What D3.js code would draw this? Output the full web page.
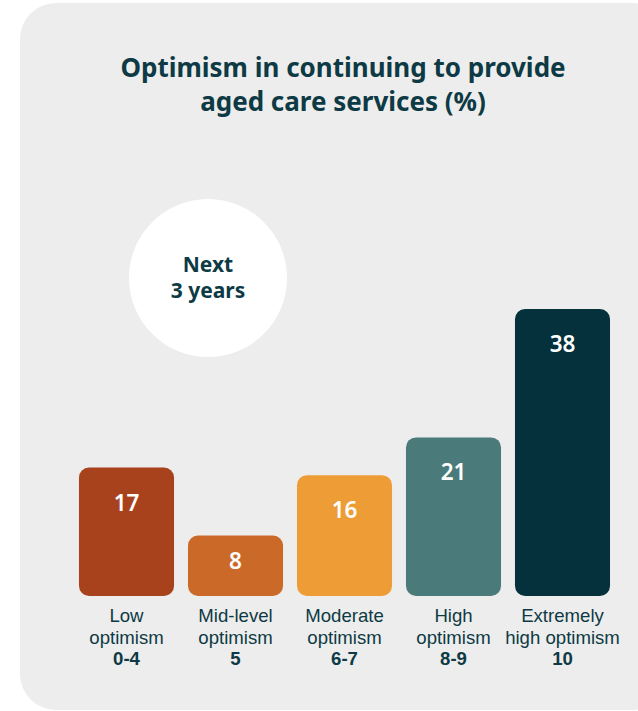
<!DOCTYPE html>
<html>
<head>
<meta charset="utf-8">
<script src="https://cdn.jsdelivr.net/npm/d3@7/dist/d3.min.js"></script>
<style>
  html, body { margin: 0; padding: 0; background: #ffffff; }
  svg { display: block; }
</style>
</head>
<body>
<svg id="chart" width="638" height="711"></svg>
<script>
// Share of providers (%) by optimism level, next 3 years
const categoryLines = [
  ["Low", "optimism"],
  ["Mid-level", "optimism"],
  ["Moderate", "optimism"],
  ["High", "optimism"],
  ["Extremely", "high optimism"]
];
const scoreRanges = ["0-4", "5", "6-7", "8-9", "10"];
const values = [17, 8, 16, 21, 38];
const barColors = ["#a7421d", "#cb6a28", "#ed9c36", "#4a7a7a", "#04313c"];
const titleLines = ["Optimism in continuing to provide", "aged care services (%)"];
const badgeLines = ["Next", "3 years"];

const ink = "#0d3a44";
const font = "'Noto Sans', 'Open Sans', sans-serif";
const labelFont = "'Liberation Sans', Arial, sans-serif";

const svg = d3.select("#chart");

// Card background
svg.append("rect")
  .attr("x", 20).attr("y", 3)
  .attr("width", 648).attr("height", 707)
  .attr("rx", 36).attr("ry", 36)
  .attr("fill", "#ededed");

// Title
svg.append("text")
  .attr("text-anchor", "middle")
  .attr("font-family", font)
  .attr("font-weight", 700)
  .attr("font-size", 26)
  .attr("fill", ink)
  .selectAll("tspan")
  .data(titleLines)
  .join("tspan")
  .attr("x", 343)
  .attr("y", (d, i) => 77 + i * 34)
  .text(d => d);

// Badge circle
svg.append("circle")
  .attr("cx", 208).attr("cy", 278).attr("r", 79)
  .attr("fill", "#ffffff");

svg.append("text")
  .attr("text-anchor", "middle")
  .attr("font-family", font)
  .attr("font-weight", 700)
  .attr("font-size", 21)
  .attr("fill", ink)
  .selectAll("tspan")
  .data(badgeLines)
  .join("tspan")
  .attr("x", 208)
  .attr("y", (d, i) => 272 + i * 26)
  .text(d => d);

// Scales
const x = d3.scaleBand()
  .domain(d3.range(values.length))
  .range([72, 617])
  .paddingInner(0.128)
  .paddingOuter(0.064);

const y = d3.scaleLinear()
  .domain([0, 38])
  .range([596, 309]);

// Bars
const bars = svg.append("g");
bars.selectAll("rect")
  .data(values)
  .join("rect")
  .attr("x", (d, i) => x(i))
  .attr("y", d => y(d))
  .attr("width", x.bandwidth())
  .attr("height", d => y(0) - y(d))
  .attr("rx", 10).attr("ry", 10)
  .attr("fill", (d, i) => barColors[i]);

// Value labels inside bars
bars.selectAll("text")
  .data(values)
  .join("text")
  .attr("x", (d, i) => x(i) + x.bandwidth() / 2)
  .attr("y", d => y(d) + Math.min(43, (y(0) - y(d)) * 0.55))
  .attr("text-anchor", "middle")
  .attr("font-family", font)
  .attr("font-weight", 600)
  .attr("font-size", 22.5)
  .attr("fill", "#ffffff")
  .text(d => d);

// Category labels beneath bars: one text per line
const labelRows = [];
values.forEach((v, i) => {
  categoryLines[i].forEach((line, k) => labelRows.push({ i, k, text: line, bold: false }));
  labelRows.push({ i, k: 2, text: scoreRanges[i], bold: true });
});

svg.append("g")
  .attr("font-family", labelFont)
  .attr("font-size", 18.6)
  .attr("fill", ink)
  .attr("text-anchor", "middle")
  .selectAll("text")
  .data(labelRows)
  .join("text")
  .attr("x", d => x(d.i) + x.bandwidth() / 2)
  .attr("y", d => 622 + d.k * 21.5)
  .attr("font-weight", d => d.bold ? 700 : 400)
  .text(d => d.text);
</script>
</body>
</html>
